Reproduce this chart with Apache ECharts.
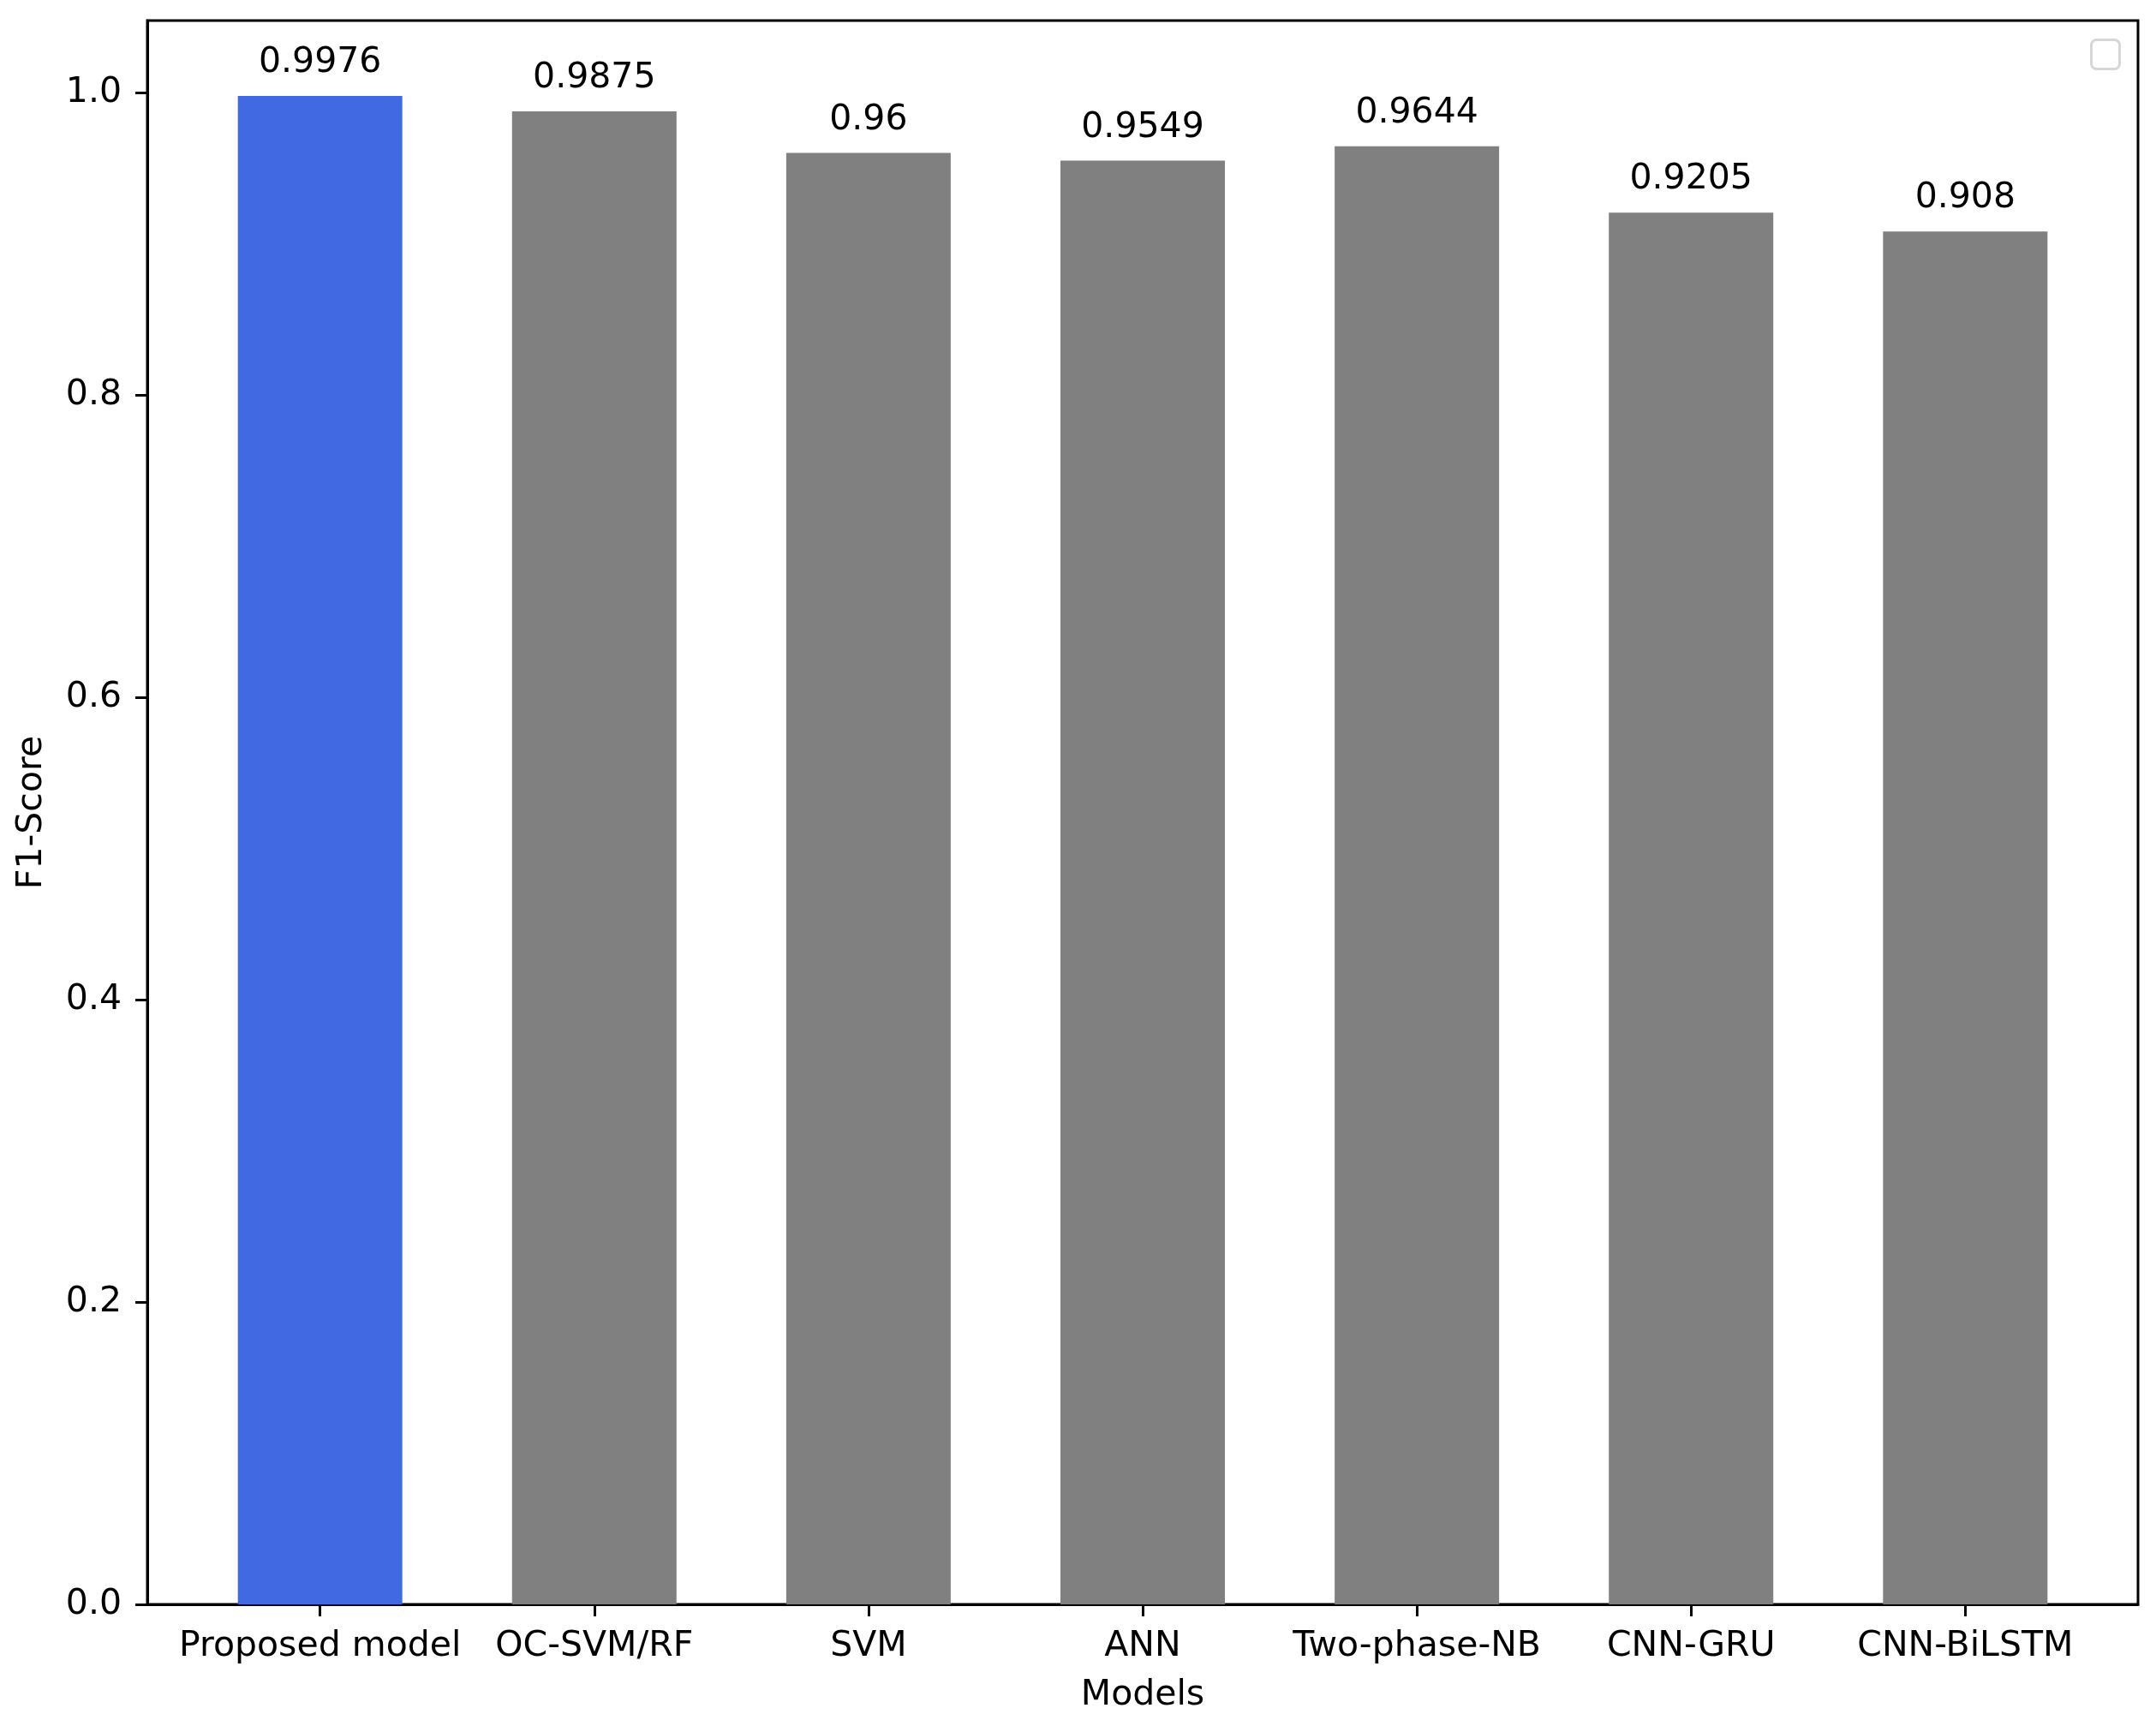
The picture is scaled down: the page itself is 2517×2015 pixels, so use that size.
<!DOCTYPE html>
<html>
<head>
<meta charset="utf-8">
<script src="https://cdn.jsdelivr.net/npm/echarts@6/dist/echarts.min.js"></script>
<style>
html,body{margin:0;padding:0;background:#fff;}
#chart{width:2517px;height:2015px;}
</style>
</head>
<body>
<div id="chart"></div>
<script>
const categories = ['Proposed model', 'OC-SVM/RF', 'SVM', 'ANN', 'Two-phase-NB', 'CNN-GRU', 'CNN-BiLSTM'];
const f1Scores = [0.9976, 0.9875, 0.96, 0.9549, 0.9644, 0.9205, 0.908];
const yTicks = [0, 0.2, 0.4, 0.6, 0.8, 1.0];

const FONT = 'DejaVu Sans';
const FS = 41;
const chart = echarts.init(document.getElementById('chart'), null, {renderer: 'canvas'});
const xIdx = categories.map((c, i) => i);

chart.setOption({
  backgroundColor: '#ffffff',
  animation: false,
  grid: {
    left: 172, right: 21, top: 24, bottom: 142,
    show: true, borderColor: '#000', borderWidth: 3, backgroundColor: 'transparent'
  },
  xAxis: {
    type: 'value',
    min: -0.63, max: 6.63,
    name: 'Models',
    nameLocation: 'middle',
    nameGap: 86,
    nameTextStyle: {fontFamily: FONT, fontSize: FS, color: '#000'},
    axisLine: {show: true, onZero: false, lineStyle: {color: '#000', width: 3}},
    axisTick: {show: true, length: 14, lineStyle: {color: '#000', width: 3}, customValues: xIdx},
    axisLabel: {
      show: true, margin: 29, fontFamily: FONT, fontSize: FS, color: '#000',
      customValues: xIdx,
      formatter: v => categories[Math.round(v)]
    },
    splitLine: {show: false}
  },
  yAxis: {
    type: 'value',
    min: 0, max: 1.0475,
    name: 'F1-Score',
    nameLocation: 'middle',
    nameGap: 114,
    nameTextStyle: {fontFamily: FONT, fontSize: FS, color: '#000'},
    axisLine: {show: true, onZero: false, lineStyle: {color: '#000', width: 3}},
    axisTick: {show: true, length: 14, lineStyle: {color: '#000', width: 3}, customValues: yTicks},
    axisLabel: {
      show: true, margin: 30, fontFamily: FONT, fontSize: FS, color: '#000',
      padding: [10, 0, 0, 0],
      customValues: yTicks,
      formatter: v => v.toFixed(1)
    },
    splitLine: {show: false}
  },
  graphic: [{
    type: 'rect',
    right: 41, top: 45,
    shape: {width: 33, height: 34, r: 6},
    style: {fill: '#fff', stroke: '#d6d6d6', lineWidth: 3},
    z: 100
  }],
  series: [{
    type: 'bar',
    data: f1Scores.map((v, i) => [i, v]),
    barWidth: 192,
    itemStyle: {
      color: p => p.dataIndex === 0 ? '#4169E1' : '#808080'
    },
    label: {
      show: true,
      position: 'top',
      distance: 18,
      fontFamily: FONT, fontSize: FS, color: '#000',
      formatter: p => String(p.value[1])
    }
  }]
});
</script>
</body>
</html>
